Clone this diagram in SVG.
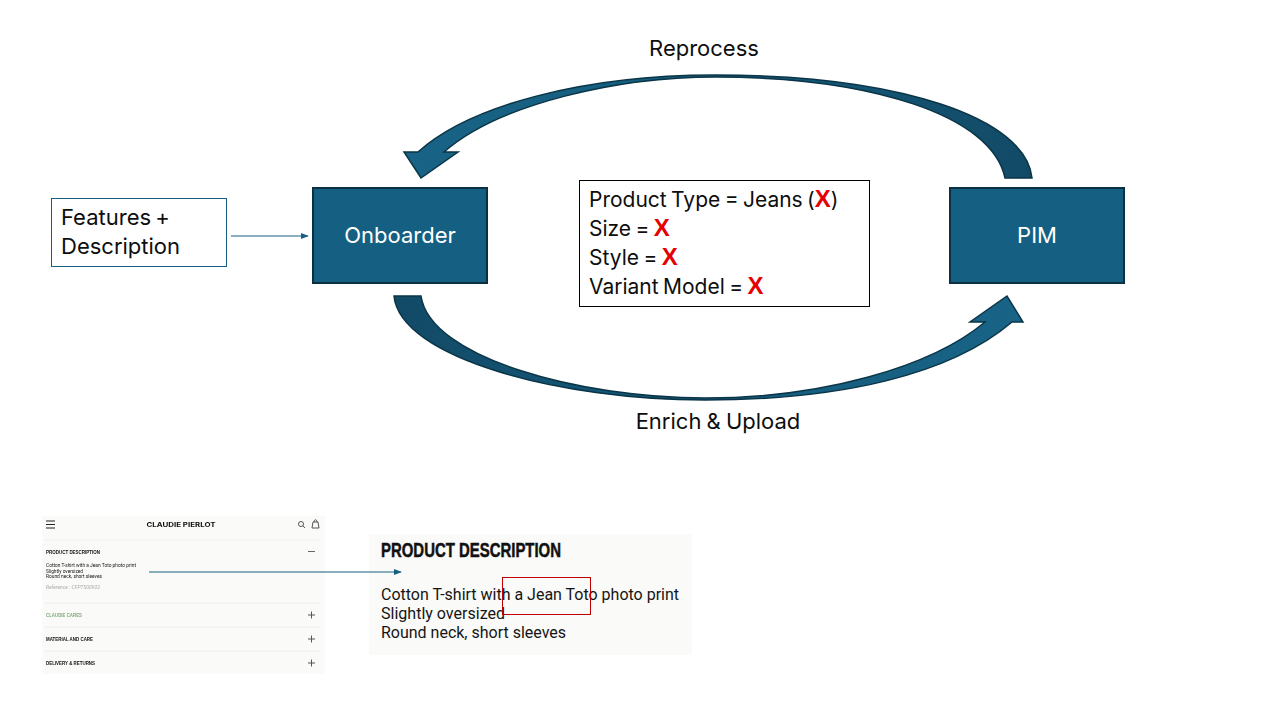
<svg xmlns="http://www.w3.org/2000/svg" width="1280" height="720" viewBox="0 0 1280 720">
<style>
text{font-family:"Inter","Noto Sans","Liberation Sans",sans-serif;fill:#0e0e0e}
.node{fill:#156082;stroke:#0a3041;stroke-width:2}
.nt{fill:#fff;font-size:22px;text-anchor:middle}
.lab{font-size:22px;text-anchor:middle;word-spacing:-1px}
.t{font-size:22px;word-spacing:-2px}
.b{font-size:21px;word-spacing:-1.500px}
.x{fill:#e60000;font-weight:700;font-size:24px;font-family:"Liberation Sans",sans-serif}
.thin{fill:none;stroke:#156082;stroke-width:1.1}
.band{stroke:#0b3547;stroke-width:1.5;stroke-linejoin:miter}
.h{font-family:"Liberation Sans Narrow","Liberation Sans",sans-serif;font-weight:700;fill:#111}
.s{font-family:"Roboto","Liberation Sans",sans-serif;fill:#151515}
.rule{stroke:#eeeeea;stroke-width:1}
.ic{stroke:#555;stroke-width:1;fill:none}
</style>
<defs>
<marker id="ah" viewBox="0 0 10 10" refX="9" refY="5" markerWidth="8" markerHeight="8" orient="auto" markerUnits="userSpaceOnUse"><path d="M0 1L10 5L0 9z" fill="#156082"/></marker>
<linearGradient id="gt" x1="0" x2="1" y1="0" y2="0"><stop offset="0" stop-color="#186386"/><stop offset="0.5" stop-color="#155c7d"/><stop offset="1" stop-color="#124a66"/></linearGradient>
<linearGradient id="gb" x1="0" x2="1" y1="0" y2="0"><stop offset="0" stop-color="#124a66"/><stop offset="0.5" stop-color="#155c7d"/><stop offset="1" stop-color="#186386"/></linearGradient>
<filter id="soft"><feGaussianBlur stdDeviation="0.4"/></filter>
</defs>

<g id="connectors">
<path id="arrow-reprocess" class="band" fill="url(#gt)" d="M1032 178C1026 118 900 75 715 75C585 75 470 105 418 152L404 152L421 178L458 152L444 152C500 103 620 77 715 77C870 77 992 115 1005 178Z"/>
<path id="arrow-enrich" class="band" fill="url(#gb)" d="M394 296C400 358 560 400 705 400C840 400 950 375 1012 322L1023 322L1007 296L970 322L985 322C930 368 820 398 705 398C580 398 430 358 421 296Z"/>
<line class="thin" x1="231" y1="236" x2="308" y2="236" marker-end="url(#ah)"/>
</g>

<g id="features"><rect x="51.500" y="198.500" width="175" height="68" fill="#fff" stroke="#156082" stroke-width="1"/>
<text class="t" x="61" y="225">Features +</text><text class="t" x="61" y="254">Description</text></g>
<g id="onboarder"><rect class="node" x="313" y="188" width="174" height="95"/><text class="nt" x="400" y="243">Onboarder</text></g>
<g id="pim"><rect class="node" x="950" y="188" width="174" height="95"/><text class="nt" x="1037" y="243">PIM</text></g>
<g id="attributes"><rect x="579.500" y="180.500" width="290" height="126" fill="#fff" stroke="#000" stroke-width="1"/>
<text class="b" x="589" y="207">Product Type = Jeans (<tspan class="x">X</tspan>)</text>
<text class="b" x="589" y="236">Size = <tspan class="x">X</tspan></text>
<text class="b" x="589" y="265">Style = <tspan class="x">X</tspan></text>
<text class="b" x="589" y="294">Variant Model = <tspan class="x">X</tspan></text></g>
<text class="lab" x="704" y="56">Reprocess</text>
<text class="lab" x="718" y="429">Enrich &amp; Upload</text>

<g id="screenshot-left" filter="url(#soft)">
<rect x="42" y="516" width="283" height="158" fill="#fafaf8"/>
<path d="M46 521h9M46 524.500h9M46 528h9" stroke="#222" stroke-width="1" fill="none"/>
<text x="181" y="527" text-anchor="middle" font-family="Liberation Sans,sans-serif" font-weight="700" font-size="6.500" textLength="69" lengthAdjust="spacingAndGlyphs">CLAUDIE PIERLOT</text>
<circle class="ic" cx="301" cy="524" r="2.500"/><path class="ic" d="M303 526l2 2M313 522h5l1 6h-7zM314 522c0-3 3-3 3 0"/>
<line class="rule" x1="45" x2="320" y1="540" y2="540"/>
<text class="h" x="46" y="554" font-size="6" textLength="54" lengthAdjust="spacingAndGlyphs">PRODUCT DESCRIPTION</text>
<path d="M308 551.500h7" stroke="#666" stroke-width="1"/>
<text class="s" x="46" y="567" font-size="5" textLength="90" lengthAdjust="spacingAndGlyphs">Cotton T-shirt with a Jean Toto photo print</text>
<text class="s" x="46" y="572.500" font-size="5" textLength="37" lengthAdjust="spacingAndGlyphs">Slightly oversized</text>
<text class="s" x="46" y="578" font-size="5" textLength="56" lengthAdjust="spacingAndGlyphs">Round neck, short sleeves</text>
<text class="s" x="46" y="589" font-size="5" font-style="italic" textLength="54" lengthAdjust="spacingAndGlyphs" style="fill:#aaa">Reference : CFPTS00922</text>
<line class="rule" x1="45" x2="320" y1="603" y2="603"/>
<text class="h" x="46" y="617" font-size="6" textLength="36" lengthAdjust="spacingAndGlyphs" style="fill:#7fa97f">CLAUDIE CARES</text>
<path class="ic" d="M308 615h7M311.500 611.500v7"/>
<line class="rule" x1="45" x2="320" y1="627" y2="627"/>
<text class="h" x="46" y="641" font-size="6" textLength="47" lengthAdjust="spacingAndGlyphs">MATERIAL AND CARE</text>
<path class="ic" d="M308 639h7M311.500 635.500v7"/>
<line class="rule" x1="45" x2="320" y1="651" y2="651"/>
<text class="h" x="46" y="665" font-size="6" textLength="49" lengthAdjust="spacingAndGlyphs">DELIVERY &amp; RETURNS</text>
<path class="ic" d="M308 663h7M311.500 659.500v7"/>
</g>

<g id="screenshot-right">
<rect x="369" y="534" width="323" height="121" fill="#fafaf8"/>
<text class="h" x="381" y="557" font-size="20" textLength="180" lengthAdjust="spacingAndGlyphs" stroke="#111" stroke-width="0.5">PRODUCT DESCRIPTION</text>
<text class="s" x="381" y="600" font-size="16" textLength="298" lengthAdjust="spacingAndGlyphs">Cotton T-shirt with a Jean Toto photo print</text>
<text class="s" x="381" y="619" font-size="16" textLength="124" lengthAdjust="spacingAndGlyphs">Slightly oversized</text>
<text class="s" x="381" y="637.500" font-size="16" textLength="185" lengthAdjust="spacingAndGlyphs">Round neck, short sleeves</text>
<rect x="502.500" y="577.500" width="88" height="37" fill="none" stroke="#c00000" stroke-width="1"/>
</g>
<line class="thin" x1="149" y1="572" x2="401" y2="572" marker-end="url(#ah)"/>
</svg>
